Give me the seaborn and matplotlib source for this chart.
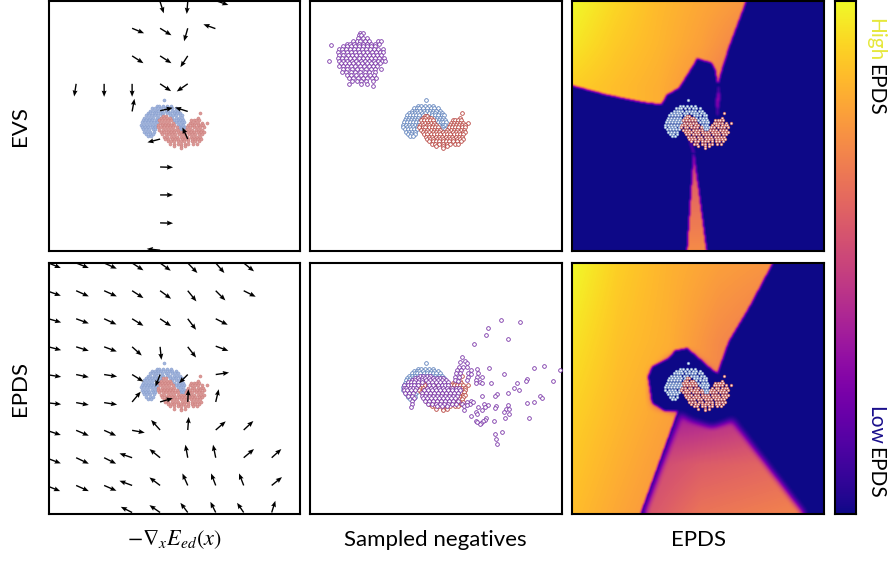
import numpy as np
import matplotlib
matplotlib.use('Agg')
import matplotlib.pyplot as plt
from matplotlib.path import Path
import seaborn as sns

# all point values below at 3x zoom,
# so the axes run 0-755 across and 0-750 down each panel (crop units)

# Moons, shared by every panel: (row y, [x, ...])
blue_rows = [
    (299, [348]),
    (316, [325, 333, 345, 357, 368]),
    (323, [312, 320, 328, 338, 350, 362, 372, 384]),
    (330, [305, 314, 322, 330, 341, 352, 360, 370, 379, 390]),
    (337, [298, 306, 316, 324, 336, 345, 357, 366, 376, 386, 395]),
    (344, [292, 301, 310, 319, 328, 340, 365, 374, 384, 395, 402]),
    (351, [288, 297, 306, 315, 325, 335, 372, 382, 391, 400]),
    (358, [285, 294, 303, 312, 322, 330, 378, 388, 396, 404]),
    (365, [281, 290, 299, 309, 318, 327, 384, 392, 400, 407]),
    (372, [278, 287, 296, 306, 315, 324, 388, 398, 405]),
    (379, [280, 290, 300, 310, 320, 392, 400, 410]),
    (386, [284, 293, 303, 313, 321, 398, 405]),
    (393, [288, 297, 306, 316]),
    (400, [294, 304, 314]),
    (406, [300, 309]),
]
red_rows = [
    (337, [456]),
    (345, [345, 352]),
    (352, [338, 346, 356, 364, 450]),
    (359, [333, 342, 350, 360, 368, 428, 436, 444, 452]),
    (366, [335, 344, 354, 363, 373, 424, 432, 441, 450, 460, 475]),
    (373, [330, 340, 350, 358, 368, 378, 420, 430, 438, 448, 457, 464]),
    (380, [328, 338, 346, 356, 365, 375, 385, 416, 426, 436, 445, 455, 466]),
    (387, [333, 343, 352, 362, 372, 381, 390, 412, 422, 432, 442, 452, 462]),
    (394, [338, 348, 358, 368, 378, 388, 398, 408, 418, 428, 438, 448, 458, 466]),
    (401, [342, 352, 362, 372, 381, 391, 401, 411, 421, 431, 441, 451, 460]),
    (408, [347, 357, 367, 377, 387, 397, 407, 417, 427, 437, 447, 456]),
    (415, [350, 360, 370, 380, 390, 400, 410, 420, 430, 440, 449, 458]),
    (422, [358, 368, 378, 388, 398, 408, 418, 430, 440, 452]),
    (429, [365, 376, 388, 398, 410, 420, 434, 445]),
    (436, [378, 398, 410]),
    (441, [398]),
]

# EVS negatives, the blob top left
evs_neg_rows = [
    (95, [150, 158]),
    (103, [146, 152]),
    (112, [145, 160, 172]),
    (120, [128, 140, 150, 164, 176, 205, 214]),
    (128, [112, 120, 132, 146, 158, 170, 182, 194, 207]),
    (132, [64]),
    (136, [100, 112, 122, 135, 148, 160, 172, 184, 196]),
    (145, [86, 96, 108, 120, 132, 145, 156, 168, 180, 192, 204, 218]),
    (153, [84, 98, 110, 122, 136, 148, 160, 172, 186, 198, 210, 220]),
    (162, [86, 100, 114, 126, 138, 150, 164, 176, 190, 202, 214]),
    (170, [84, 96, 108, 120, 132, 146, 158, 170, 184, 196, 208, 222]),
    (179, [57, 88, 100, 112, 126, 138, 152, 164, 178, 192, 204, 216, 224]),
    (187, [92, 104, 118, 130, 144, 156, 170, 182, 196, 210]),
    (196, [86, 98, 110, 124, 136, 150, 162, 176, 190, 202]),
    (205, [100, 112, 126, 140, 154, 168, 182, 196, 212]),
    (214, [96, 108, 122, 136, 150, 164, 178, 194]),
    (223, [112, 124, 138, 152, 166, 180, 192]),
    (232, [116, 130, 144, 158, 172, 186, 198]),
    (240, [126, 140, 154, 168, 190]),
    (250, [116, 152, 172]),
    (257, [188]),
]

# EPDS negatives, in crop coordinates with the panel corner at (15, 15)
epds_neg_origin = (15, 15)
epds_neg_swirl_rows = [
    (352, [345, 355, 365, 375]),
    (358, [330, 340, 350, 360, 372, 385, 395, 405, 415]),
    (365, [320, 330, 342, 352, 364, 376, 388, 400, 412, 422]),
    (372, [308, 318, 328, 338, 350, 370, 382, 394, 406, 418, 428]),
    (380, [298, 308, 318, 328, 340, 372, 385, 398, 410, 420, 430]),
    (388, [296, 304, 314, 324, 334, 366, 378, 390, 402, 414, 426, 440, 452, 462]),
    (396, [296, 306, 318, 330, 358, 370, 382, 394, 406, 418, 430, 442, 454, 464]),
    (404, [300, 312, 324, 352, 362, 374, 386, 398, 410, 422, 434, 446, 458]),
    (412, [308, 322, 350, 360, 372, 384, 396, 408, 420, 432, 444, 456]),
    (420, [326, 354, 366, 378, 390, 402, 414, 426, 438, 450]),
    (428, [322, 360, 372, 384, 396, 408, 420, 432, 444, 460]),
    (436, [322, 368, 380, 392, 404, 416, 428, 440, 452, 470]),
    (444, [395, 410, 425]),
    (447, [319]),
]
epds_neg_scatter = [
    (588, 186), (645, 192), (550, 211), (543, 230), (609, 243), (506, 259), (551, 329), (686, 329),
    (717, 323), (764, 335), (597, 347), (744, 367), (667, 362), (664, 368), (557, 375), (635, 373),
    (627, 388), (641, 395), (610, 405), (575, 407), (570, 412), (531, 412), (705, 413), (711, 418),
    (688, 430), (665, 435), (609, 440), (573, 442), (571, 449), (537, 437), (549, 440), (541, 447),
    (531, 455), (520, 447), (604, 451), (613, 451), (596, 462), (612, 467), (600, 479), (672, 479),
    (514, 462), (516, 467), (499, 472), (544, 478), (540, 484), (533, 488), (528, 493), (526, 497),
    (513, 487), (516, 491), (567, 489), (590, 522), (570, 527), (574, 543), (577, 558),
    (471, 296), (465, 312), (481, 308), (487, 314), (463, 325), (473, 325), (487, 325), (497, 335),
    (456, 335), (468, 335), (490, 345), (453, 345), (465, 345), (497, 347), (490, 355), (449, 355),
    (461, 355), (487, 365), (449, 365), (459, 367), (517, 333), (520, 345), (515, 355), (530, 356),
    (512, 365), (525, 372), (530, 375), (513, 375), (497, 428), (487, 430), (495, 437), (478, 443),
    (485, 440), (477, 455), (503, 430),
]

# Arrows as (tail x, tail y, head x, head y), corner of the panel at evs_origin / epds_origin
evs_origin = (25, 3)
epds_origin = (25, 15)
evs_arrows = [
    (360, 5, 371, 40), (443, 5, 440, 42), (530, 3, 565, 15), (276, 85, 312, 100), (360, 85, 394, 106),
    (443, 85, 432, 124), (526, 86, 490, 73), (276, 168, 310, 190), (360, 168, 394, 190), (443, 168, 421, 202),
    (360, 252, 393, 274), (443, 252, 410, 275), (108, 252, 102, 290), (192, 252, 192, 291), (276, 252, 276, 291),
    (276, 335, 283, 297), (360, 333, 398, 324), (443, 335, 405, 323), (443, 418, 427, 383), (360, 418, 322, 428),
    (360, 502, 399, 503), (360, 586, 399, 586), (360, 670, 399, 671), (360, 752, 320, 748),
]
epds_arrows = [
    (25, 15, 62, 30), (108, 15, 146, 30), (192, 15, 230, 32), (276, 15, 310, 37), (360, 15, 392, 38),
    (443, 15, 472, 45), (527, 15, 553, 45), (611, 15, 642, 40),
    (25, 100, 62, 113), (108, 98, 146, 115), (192, 98, 230, 115), (276, 98, 310, 120), (360, 98, 393, 122),
    (443, 98, 469, 130), (527, 98, 556, 127), (611, 98, 647, 116),
    (25, 182, 63, 193), (108, 182, 146, 196), (192, 182, 229, 199), (276, 182, 310, 203), (360, 182, 393, 204),
    (443, 182, 468, 215), (527, 182, 563, 200),
    (25, 266, 63, 276), (108, 266, 146, 278), (192, 266, 230, 280), (276, 266, 305, 292), (360, 266, 364, 305),
    (443, 266, 468, 298), (527, 264, 565, 278),
    (25, 350, 63, 356), (108, 349, 146, 357), (192, 349, 231, 355), (276, 349, 310, 370), (360, 349, 346, 385),
    (443, 349, 417, 375), (527, 349, 567, 343),
    (25, 434, 63, 438), (108, 433, 146, 440), (192, 433, 231, 439), (276, 431, 302, 400), (360, 431, 398, 420),
    (443, 431, 445, 393), (527, 431, 536, 393),
    (25, 518, 62, 530), (108, 516, 146, 532), (192, 516, 228, 532), (276, 516, 314, 523), (360, 515, 333, 485),
    (443, 515, 446, 476), (527, 515, 557, 489), (611, 515, 640, 488),
    (25, 601, 62, 615), (108, 598, 146, 616), (192, 598, 228, 616), (276, 598, 238, 585), (360, 598, 328, 572),
    (443, 598, 436, 559), (527, 598, 519, 559), (611, 598, 642, 572), (695, 598, 724, 572),
    (25, 684, 60, 698), (108, 681, 146, 698), (192, 681, 229, 697), (276, 681, 238, 667), (360, 681, 328, 657),
    (443, 681, 427, 645), (527, 681, 513, 645), (611, 681, 597, 645), (695, 681, 726, 656),
    (276, 762, 242, 745), (360, 762, 328, 740), (443, 762, 421, 733), (527, 762, 511, 730), (611, 762, 591, 733),
    (695, 762, 706, 727),
]

# EPDS score regions, crop coordinates
field_evs_origin = (12, 3)
field_epds_origin = (12, 15)
evs_upper_region = [(0, 0), (522, 0), (500, 60), (470, 140), (445, 220), (438, 250), (430, 205), (420, 185), (375, 172),
                    (365, 190), (340, 230), (320, 262), (285, 280), (268, 310), (210, 303), (100, 280), (0, 253)]
evs_streak_region = [(440, 255), (444, 290), (436, 345), (432, 300)]
evs_streak2_region = [(349, 405), (354, 410), (368, 456), (362, 456)]
evs_wedge_region = [(365, 450), (345, 760), (405, 760)]
epds_upper_region = [(0, 0), (602, 0), (530, 135), (470, 235), (436, 330), (420, 320), (375, 280), (345, 255), (310, 262),
                     (290, 285), (240, 310), (228, 340), (240, 420), (280, 445), (317, 445), (197, 775), (0, 775)]
epds_lower_region = [(327, 450), (208, 775), (712, 775), (480, 470), (420, 490), (360, 470)]
epds_halo_region = [(245, 335), (300, 290), (345, 275), (400, 320), (425, 345), (425, 400), (480, 462), (420, 478),
                    (350, 462), (320, 440), (250, 420), (245, 380)]

# score grids read at the crop positions given by the node lists
evs_upper_x = [12, 140, 270, 400, 520]
evs_upper_y = [5, 130, 260]
evs_upper_values = [[1.00, 0.92, 0.85, 0.80, 0.76],
                    [0.96, 0.89, 0.84, 0.78, 0.70],
                    [0.90, 0.86, 0.82, 0.74, 0.62]]
evs_wedge_x = [340, 410]
evs_wedge_y = [450, 560, 750]
evs_wedge_values = [[0.35, 0.35], [0.60, 0.60], [0.72, 0.72]]
epds_upper_x = [12, 150, 300, 450, 600]
epds_upper_y = [15, 250, 500, 765]
epds_upper_values = [[1.00, 0.90, 0.83, 0.78, 0.75],
                     [0.95, 0.87, 0.82, 0.72, 0.66],
                     [0.90, 0.84, 0.78, 0.70, 0.66],
                     [0.86, 0.80, 0.74, 0.70, 0.66]]
epds_lower_x = [200, 400, 700]
epds_lower_y = [480, 620, 765]
epds_lower_values = [[0.35, 0.38, 0.50],
                     [0.48, 0.57, 0.62],
                     [0.52, 0.65, 0.70]]

row_labels = ['EVS', 'EPDS']
col_labels = [r'$-\nabla_x E_{ed}(x)$', 'Sampled negatives', 'EPDS']

# pixel boxes: left, top, right, bottom
cols_px = [(48.5, 300), (310, 561.5), (572, 824)]
rows_px = [(1, 250.5), (263, 513.5)]
cbar_px = (835, 1, 856, 514)

W_PX, H_PX = 888, 561
CROP = 3.0
N_X, N_Y = 252, 250

sns.set_theme(style='white')
plt.rcParams['font.family'] = ['Lato', 'DejaVu Sans']
plt.rcParams['mathtext.fontset'] = 'stix'


def rows_to_xy(rows):
    return np.array([(x, y) for y, xs in rows for x in xs], dtype=float)


def add_box(fig, left, top, right, bottom):
    return fig.add_axes([left / W_PX, 1 - bottom / H_PX, (right - left) / W_PX, (bottom - top) / H_PX])


def finish(ax):
    ax.set_xlim(0, 755)
    ax.set_ylim(750, 0)
    ax.set_xticks([])
    ax.set_yticks([])
    ax.set_xlabel('')
    ax.set_ylabel('')
    for s in ax.spines.values():
        s.set_visible(True)
        s.set_color('black')
        s.set_linewidth(1.5)


# cell centres of the score grids in crop units
xx, yy = np.meshgrid((np.arange(N_X) + 0.5) * CROP, (np.arange(N_Y) + 0.5) * CROP)


def soft_mask(region, blur):
    inside = Path(region).contains_points(np.c_[xx.ravel(), yy.ravel()]).reshape(xx.shape).astype(float)
    if blur == 0:
        return inside
    kernel = np.ones(2 * blur + 1) / (2 * blur + 1)
    padded = np.pad(inside, 2 * blur + 2, mode='edge')
    for _ in range(2):
        padded = np.apply_along_axis(lambda r: np.convolve(r, kernel, mode='same'), 0, padded)
        padded = np.apply_along_axis(lambda r: np.convolve(r, kernel, mode='same'), 1, padded)
    p = 2 * blur + 2
    return padded[p:-p, p:-p]


def grid_values(nodes_x, nodes_y, values, origin):
    nx = np.array(nodes_x, float) - origin[0]
    ny = np.array(nodes_y, float) - origin[1]
    by_row = np.array([np.interp(xx[0], nx, row) for row in values])
    return np.array([np.interp(yy[:, 0], ny, by_row[:, j]) for j in range(N_X)]).T


evs_field = np.maximum.reduce([
    grid_values(evs_upper_x, evs_upper_y, evs_upper_values, field_evs_origin) * soft_mask(evs_upper_region, 1),
    grid_values(evs_wedge_x, evs_wedge_y, evs_wedge_values, field_evs_origin) * soft_mask(evs_wedge_region, 1),
    0.30 * soft_mask(evs_streak_region, 1),
    0.22 * soft_mask(evs_streak2_region, 1),
])
epds_field = np.maximum(
    grid_values(epds_upper_x, epds_upper_y, epds_upper_values, field_epds_origin) * soft_mask(epds_upper_region, 1),
    grid_values(epds_lower_x, epds_lower_y, epds_lower_values, field_epds_origin) * soft_mask(epds_lower_region, 3),
) * (1 - soft_mask(epds_halo_region, 5))

blue_xy = rows_to_xy(blue_rows)
red_xy = rows_to_xy(red_rows)
evs_neg_xy = rows_to_xy(evs_neg_rows)
epds_neg_xy = np.vstack([rows_to_xy(epds_neg_swirl_rows), np.array(epds_neg_scatter, float)]) - epds_neg_origin

fig = plt.figure(figsize=(W_PX / 100, H_PX / 100), dpi=100)


def moons(ax, blue_face, blue_edge, red_face, red_edge, size, lw):
    sns.scatterplot(x=blue_xy[:, 0], y=blue_xy[:, 1], ax=ax, s=size, color=blue_face, edgecolor=blue_edge, linewidth=lw, legend=False, zorder=3)
    sns.scatterplot(x=red_xy[:, 0], y=red_xy[:, 1], ax=ax, s=size, color=red_face, edgecolor=red_edge, linewidth=lw, legend=False, zorder=3)


def negatives(ax, xy):
    sns.scatterplot(x=xy[:, 0], y=xy[:, 1], ax=ax, s=7, color='white', edgecolor='#7a35a8', linewidth=0.6, legend=False, zorder=4)


def arrows(ax, segs, origin):
    a = np.array(segs, float)
    ax.quiver(a[:, 0] - origin[0], a[:, 1] - origin[1], a[:, 2] - a[:, 0], a[:, 3] - a[:, 1],
              angles='xy', scale_units='xy', scale=1, width=0.0055, headwidth=3.6, headlength=4.5,
              headaxislength=4, color='black', zorder=5)


for r, (top, bottom) in enumerate(rows_px):
    # arrows
    ax = add_box(fig, cols_px[0][0], top, cols_px[0][1], bottom)
    moons(ax, '#a3b6dd', '#8199cc', '#dc9a98', '#c97a78', 5, 0.3)
    arrows(ax, evs_arrows if r == 0 else epds_arrows, evs_origin if r == 0 else epds_origin)
    finish(ax)

    # samples
    ax = add_box(fig, cols_px[1][0], top, cols_px[1][1], bottom)
    moons(ax, 'white', '#5f82bd', 'white', '#b8443f', 7, 0.6)
    negatives(ax, evs_neg_xy if r == 0 else epds_neg_xy)
    finish(ax)

    # score map
    ax = add_box(fig, cols_px[2][0], top, cols_px[2][1], bottom)
    hm = sns.heatmap(evs_field if r == 0 else epds_field, ax=ax, cmap='plasma', vmin=0, vmax=1, cbar=False,
                     xticklabels=False, yticklabels=False)
    hm.collections[0].set_transform(
        matplotlib.transforms.Affine2D().scale(CROP, CROP) + ax.transData)
    moons(ax, '#eef2fa', '#5f82bd', '#fde9e4', '#b8443f', 4, 0.4)
    finish(ax)

    fig.text(20 / W_PX, 1 - (top + bottom) / 2 / H_PX, row_labels[r], rotation=90, ha='center', va='center',
             fontsize=16, color='black')

for (left, right), label in zip(cols_px, col_labels):
    fig.text((left + right) / 2 / W_PX, 1 - 540 / H_PX, label, ha='center', va='center', fontsize=16, color='black')

cax = add_box(fig, *cbar_px)
sns.heatmap(np.linspace(1, 0, 256)[:, None], ax=cax, cmap='plasma', vmin=0, vmax=1, cbar=False,
            xticklabels=False, yticklabels=False)
cax.set_xticks([])
cax.set_yticks([])
for s in cax.spines.values():
    s.set_visible(True)
    s.set_color('black')
    s.set_linewidth(1.5)

# colourbar captions, two colours each
for word, colour, y_px in [('High', '#e6e83c', 40), ('EPDS', 'black', 90), ('Low', '#1a0f8c', 425), ('EPDS', 'black', 473)]:
    fig.text(875 / W_PX, 1 - y_px / H_PX, word, rotation=270, ha='center', va='center', fontsize=15, color=colour)

fig.savefig('out.png', dpi=100, facecolor='white')
